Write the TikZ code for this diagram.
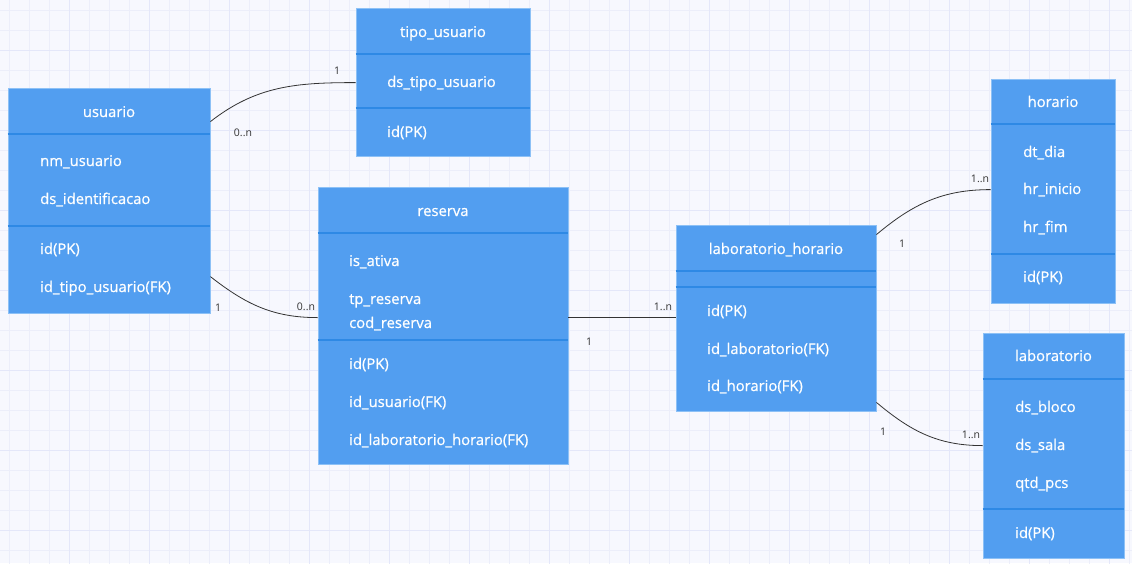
\documentclass[tikz,border=0pt]{standalone}
\usepackage{fontspec}
\setmainfont{Open Sans}
\newfontfamily\tabfont{Open Sans}[FakeBold=0.7]
\usetikzlibrary{positioning}
\definecolor{fundo}{HTML}{F7F8FE}
\definecolor{grade}{HTML}{ECEEFA}
\definecolor{gradeforte}{HTML}{E4E7F9}
\definecolor{azul}{HTML}{529EF0}
\definecolor{azulborda}{HTML}{8DC1F6}
\definecolor{azulescuro}{HTML}{2E89E5}
\definecolor{linha}{HTML}{333333}
\tikzstyle{tabela} = [draw=azulborda,fill=azul,line width=0.8pt,inner sep=0pt]
\tikzstyle{titulo} = [text=white,font=\tabfont\fontsize{14.8}{17}\selectfont,text height=11pt,text depth=3pt,inner sep=0pt]
\tikzstyle{campo} = [titulo,anchor=west]
\tikzstyle{divisor} = [azulescuro,line width=2pt]
\tikzstyle{ligacao} = [linha,line width=0.8pt]
\tikzstyle{card} = [text=linha,font=\fontsize{10.5}{12}\selectfont,inner sep=0pt]

\begin{document}
\begin{tikzpicture}[x=1pt,y=1pt]
	\useasboundingbox (0,0) rectangle (1132,-563);
	\clip (0,0) rectangle (1132,-563);
	\fill[fundo] (0,0) rectangle (1132,-563);
	\begin{scope}[shift={(9.3,-10.7)}]
		\draw[grade,line width=0.6pt,step=20] (-20,20) grid (1140,-580);
	\end{scope}
	\begin{scope}[shift={(69.3,-50.7)}]
		\draw[gradeforte,line width=1pt,step=80] (-80,80) grid (1120,-560);
	\end{scope}

	% usuario
	\node[tabela,minimum width=202pt,minimum height=225pt] (usuario) at (109,-200.5) {};
	\node[titulo] (usuario-t) at (109,-113) {usuario};
	\draw[divisor] ([yshift=-46pt]usuario.north west) -- ([yshift=-46pt]usuario.north east);
	\draw[divisor] ([yshift=-138pt]usuario.north west) -- ([yshift=-138pt]usuario.north east);
	\node[campo] (u-nome) at (40,-162) {nm\_usuario};
	\node[campo] (u-ident) at (40,-200) {ds\_identificacao};
	\node[campo] (u-id) at (40,-250) {id(PK)};
	\node[campo] (u-tipo) at (40,-288) {id\_tipo\_usuario(FK)};

	% tipo_usuario
	\node[tabela,minimum width=174pt,minimum height=148pt] (tipo) at (443,-82) {};
	\node[titulo] (tipo-t) at (443,-33) {tipo\_usuario};
	\draw[divisor] ([yshift=-46pt]tipo.north west) -- ([yshift=-46pt]tipo.north east);
	\draw[divisor] ([yshift=-100pt]tipo.north west) -- ([yshift=-100pt]tipo.north east);
	\node[campo] (t-ds) at (387,-83) {ds\_tipo\_usuario};
	\node[campo] (t-id) at (387,-133) {id(PK)};

	% reserva
	\node[tabela,minimum width=250pt,minimum height=277pt] (reserva) at (443,-325.5) {};
	\node[titulo] (reserva-t) at (443,-212) {reserva};
	\draw[divisor] ([yshift=-46pt]reserva.north west) -- ([yshift=-46pt]reserva.north east);
	\draw[divisor] ([yshift=-153pt]reserva.north west) -- ([yshift=-153pt]reserva.north east);
	\node[campo] (r-ativa) at (349,-262) {is\_ativa};
	\node[campo] (r-tp) at (349,-300) {tp\_reserva};
	\node[campo] (r-cod) at (349,-324) {cod\_reserva};
	\node[campo] (r-id) at (349,-365) {id(PK)};
	\node[campo] (r-usu) at (349,-403) {id\_usuario(FK)};
	\node[campo] (r-lh) at (349,-441) {id\_laboratorio\_horario(FK)};

	% laboratorio_horario
	\node[tabela,minimum width=200pt,minimum height=186pt] (labh) at (776,-318) {};
	\node[titulo] (labh-t) at (776,-250) {laboratorio\_horario};
	\draw[divisor] ([yshift=-46pt]labh.north west) -- ([yshift=-46pt]labh.north east);
	\draw[divisor] ([yshift=-62pt]labh.north west) -- ([yshift=-62pt]labh.north east);
	\node[campo] (lh-id) at (707,-312) {id(PK)};
	\node[campo] (lh-lab) at (707,-350) {id\_laboratorio(FK)};
	\node[campo] (lh-hor) at (707,-387) {id\_horario(FK)};

	% horario
	\node[tabela,minimum width=124pt,minimum height=224pt] (horario) at (1053,-191) {};
	\node[titulo] (horario-t) at (1053,-103) {horario};
	\draw[divisor] ([yshift=-45pt]horario.north west) -- ([yshift=-45pt]horario.north east);
	\draw[divisor] ([yshift=-175pt]horario.north west) -- ([yshift=-175pt]horario.north east);
	\node[campo] (h-dia) at (1023,-153) {dt\_dia};
	\node[campo] (h-ini) at (1023,-190) {hr\_inicio};
	\node[campo] (h-fim) at (1023,-228) {hr\_fim};
	\node[campo] (h-id) at (1023,-278) {id(PK)};

	% laboratorio
	\node[tabela,minimum width=141pt,minimum height=225pt] (lab) at (1053.5,-445.5) {};
	\node[titulo] (lab-t) at (1053.5,-357) {laboratorio};
	\draw[divisor] ([yshift=-46pt]lab.north west) -- ([yshift=-46pt]lab.north east);
	\draw[divisor] ([yshift=-176pt]lab.north west) -- ([yshift=-176pt]lab.north east);
	\node[campo] (l-bloco) at (1015,-408) {ds\_bloco};
	\node[campo] (l-sala) at (1015,-446) {ds\_sala};
	\node[campo] (l-pcs) at (1015,-484) {qtd\_pcs};
	\node[campo] (l-id) at (1015,-534) {id(PK)};

	% ligacoes
	\draw[ligacao] ([yshift=-34pt]usuario.north east) to[out=38,in=180] ([yshift=-75pt]tipo.north west);
	\node[card] (c1a) at (243,-133) {0..n};
	\node[card] (c1b) at (337,-71) {1};

	\draw[ligacao] ([yshift=-189pt]usuario.north east) to[out=-38,in=180] ([yshift=-131pt]reserva.north west);
	\node[card] (c2a) at (218,-308) {1};
	\node[card] (c2b) at (306,-307) {0..n};

	\draw[ligacao] ([yshift=-131pt]reserva.north east) -- ([yshift=-93pt]labh.north west);
	\node[card] (c3a) at (589,-342) {1};
	\node[card] (c3b) at (663,-307) {1..n};

	\draw[ligacao] ([yshift=-10pt]labh.north east) to[out=40,in=180] ([yshift=-111pt]horario.north west);
	\node[card] (c4a) at (902,-244) {1};
	\node[card] (c4b) at (980,-179) {1..n};

	\draw[ligacao] ([yshift=9pt]labh.south east) to[out=-40,in=180] ([yshift=-113pt]lab.north west);
	\node[card] (c5a) at (883,-432) {1};
	\node[card] (c5b) at (971,-435) {1..n};
\end{tikzpicture}
\end{document}
